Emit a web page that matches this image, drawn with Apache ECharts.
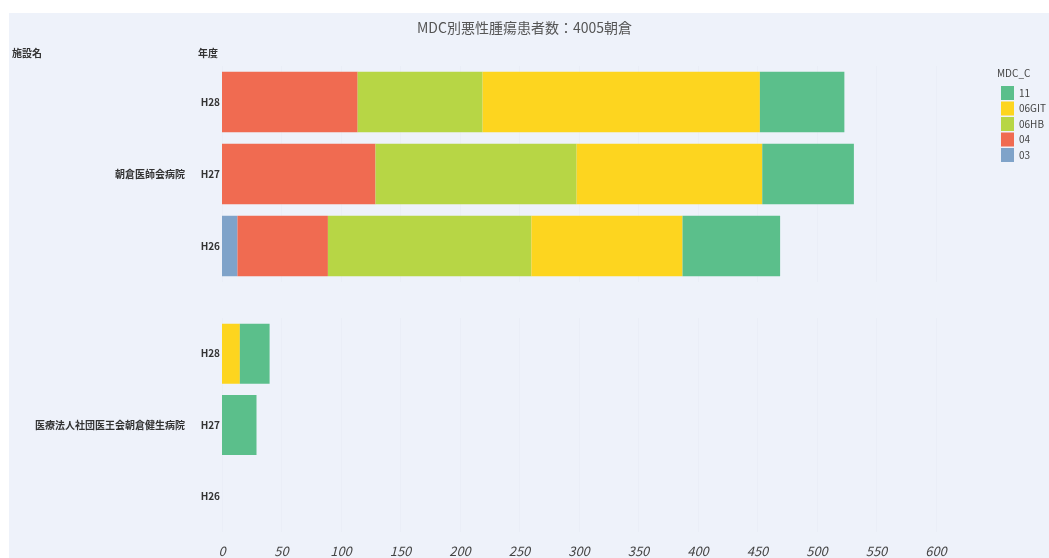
<!DOCTYPE html>
<html>
<head>
<meta charset="utf-8">
<script src="https://cdn.jsdelivr.net/npm/echarts@6/dist/echarts.min.js"></script>
<style>html,body{margin:0;padding:0;background:#fff}#c{width:1049px;height:558px}</style>
</head>
<body>
<div id="c"></div>
<script>
const titleText = 'MDC別悪性腫瘍患者数：4005朝倉';
const hospitals = ['朝倉医師会病院', '医療法人社団医王会朝倉健生病院'];
const years = ['H28', 'H27', 'H26'];
const mdcCodes = ['03', '04', '06HBP', '06GIT', '11'];
const legendOrder = ['11', '06GIT', '06HBP', '04', '03'];
const xTicks = [0, 50, 100, 150, 200, 250, 300, 350, 400, 450, 500, 550, 600];
// values per hospital, per year (H28, H27, H26)
const v03    = [[0, 0, 13],    [0, 0, 0]];
const v04    = [[114, 129, 76], [0, 0, 0]];
const v06HBP = [[105, 169, 171], [0, 0, 0]];
const v06GIT = [[233, 156, 127], [15, 0, 0]];
const v11    = [[71, 77, 82],   [25, 29, 0]];

const values = {'03': v03, '04': v04, '06HBP': v06HBP, '06GIT': v06GIT, '11': v11};
const colors = {'03': '#7fa3c9', '04': '#f06b51', '06HBP': '#b7d645', '06GIT': '#fdd51f', '11': '#5bbf8b'};
const FONT = '"Noto Sans CJK JP", "Noto Sans", sans-serif';

const grids = [
  {left: 222, right: 113, top: 66, height: 216},
  {left: 222, right: 113, top: 318, height: 216}
];
const xAxes = [], yAxes = [], series = [];
hospitals.forEach((h, i) => {
  xAxes.push({
    type: 'value', gridIndex: i, min: xTicks[0], max: xTicks[xTicks.length - 1], interval: 50,
    axisLine: {show: false}, axisTick: {show: false},
    splitLine: {show: true, lineStyle: {color: '#eaeef7', width: 1}},
    axisLabel: {show: i === hospitals.length - 1, color: '#444', fontSize: 13, fontStyle: 'italic', margin: 13, fontFamily: FONT}
  });
  yAxes.push({
    type: 'category', gridIndex: i, data: years, inverse: true,
    axisLine: {show: false}, axisTick: {show: false},
    axisLabel: {color: '#333', fontSize: 10, fontWeight: 'bold', margin: 2, fontFamily: FONT}
  });
  yAxes.push({
    type: 'category', gridIndex: i, data: ['', h, ''], inverse: true, position: 'left',
    axisLine: {show: false}, axisTick: {show: false},
    axisLabel: {color: '#333', fontSize: 10, fontWeight: 'bold', margin: 37, fontFamily: FONT}
  });
  mdcCodes.forEach(code => {
    series.push({
      type: 'bar', name: code, xAxisIndex: i, yAxisIndex: 2 * i, stack: 'h' + i,
      data: values[code][i], barCategoryGap: '16%',
      itemStyle: {color: colors[code]}
    });
  });
});

const chart = echarts.init(document.getElementById('c'));
chart.setOption({
  animation: false,
  backgroundColor: '#fff',
  title: {text: titleText, left: 'center', top: 16, textStyle: {fontSize: 14, fontWeight: 'normal', color: '#555', fontFamily: FONT}},
  legend: {
    data: legendOrder, orient: 'vertical', left: 996, top: 81, itemWidth: 13, itemHeight: 14, itemGap: 1.5,
    icon: 'rect', textStyle: {fontSize: 10, color: '#444', width: 30, overflow: 'truncate', ellipsis: '', fontFamily: FONT}
  },
  graphic: [
    {type: 'rect', z: -10, shape: {x: 9, y: 13, width: 1040, height: 545}, style: {fill: '#eef2fa'}},
    {type: 'text', left: 997, top: 68, style: {text: 'MDC_C', fontSize: 10, fill: '#444', fontFamily: FONT}},
    {type: 'text', left: 12, top: 48, style: {text: '施設名', fontSize: 10, fontWeight: 'bold', fill: '#333', fontFamily: FONT}},
    {type: 'text', left: 198, top: 48, style: {text: '年度', fontSize: 10, fontWeight: 'bold', fill: '#333', fontFamily: FONT}}
  ],
  grid: grids,
  xAxis: xAxes,
  yAxis: yAxes,
  series: series
});
</script>
</body>
</html>
